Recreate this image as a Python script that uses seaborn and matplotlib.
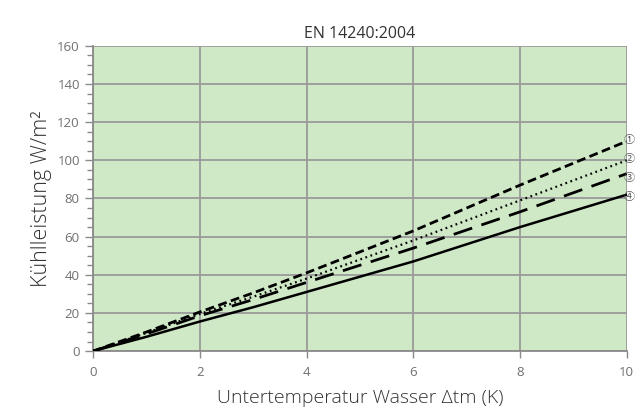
import matplotlib
matplotlib.use("Agg")
import matplotlib.pyplot as plt
import seaborn as sns
import pandas as pd
from matplotlib.ticker import MultipleLocator

sns.set_theme(style="ticks")
plt.rcParams['font.family'] = ['Open Sans', 'Noto Sans CJK SC', 'DejaVu Sans']

x_vals = [0, 1, 2, 3, 4, 5, 6, 7, 8, 9, 10]
series_1 = [0, 10, 20.5, 30.5, 41, 52, 63, 75, 87, 98.5, 110]   # short dashes
series_2 = [0, 9.5, 19.5, 28.5, 38, 48, 58, 68.5, 79, 89.5, 100]   # dotted
series_3 = [0, 9, 18.5, 27, 36, 45, 54, 63.5, 73, 83, 93]    # long dashes
series_4 = [0, 7.5, 15.5, 23, 31, 39, 47, 56, 65, 73.5, 82]    # solid
markers_right = ["①", "②", "③", "④"]

title = "EN 14240:2004"
xlabel = "Untertemperatur Wasser \u0394tm (K)"
ylabel = "Kühlleistung W/m²"

fig = plt.figure(figsize=(6.35, 4.17), dpi=100)
ax = fig.add_axes([0.1465, 0.158, 0.8405, 0.732])
ax.set_facecolor("#cfe9c6")

styles = [(0, (3.2, 1.6)), (0, (0.8, 1.6)), (0, (7, 3.5)), "-"]
widths = [2.0, 1.6, 2.0, 1.8]
for vals, ls, lw in zip([series_1, series_2, series_3, series_4], styles, widths):
    df = pd.DataFrame({"x": x_vals, "y": vals})
    sns.lineplot(data=df, x="x", y="y", ax=ax, color="black", linestyle=ls, linewidth=lw, zorder=3)

ax.set_xlim(0, 10)
ax.set_ylim(0, 160)
ax.xaxis.set_major_locator(MultipleLocator(2))
ax.yaxis.set_major_locator(MultipleLocator(20))
ax.yaxis.set_minor_locator(MultipleLocator(5))
ax.grid(True, which="major", color="#9a9a9a", linewidth=1.3, zorder=1)
ax.set_axisbelow(True)
for s in ["top", "right"]:
    ax.spines[s].set_visible(False)
for s in ["left", "bottom"]:
    ax.spines[s].set_color("#8a8a8a")
    ax.spines[s].set_linewidth(1.3)
ax.tick_params(axis="both", which="both", colors="#8a8a8a", labelcolor="#707070", labelsize=9.5)
ax.tick_params(axis="y", which="major", length=6, width=1)
ax.tick_params(axis="y", which="minor", length=4, width=1)
ax.tick_params(axis="x", which="major", length=5, width=1, pad=6)

ax.set_title(title, fontsize=11.5, color="#333333", pad=6)
ax.set_xlabel(xlabel, fontsize=14, color="#333333", labelpad=7, fontweight="light")
ax.set_ylabel(ylabel, fontsize=15.5, color="#333333", labelpad=4, fontweight="light")

for i, m in enumerate(markers_right):
    fig.text(634.5 / 635, 1 - (140 + i * 19) / 417, m, fontsize=8, color="#555555",
             va="center", ha="right", family=["Noto Sans CJK SC", "DejaVu Sans"])

fig.savefig("out.png", dpi=100)
